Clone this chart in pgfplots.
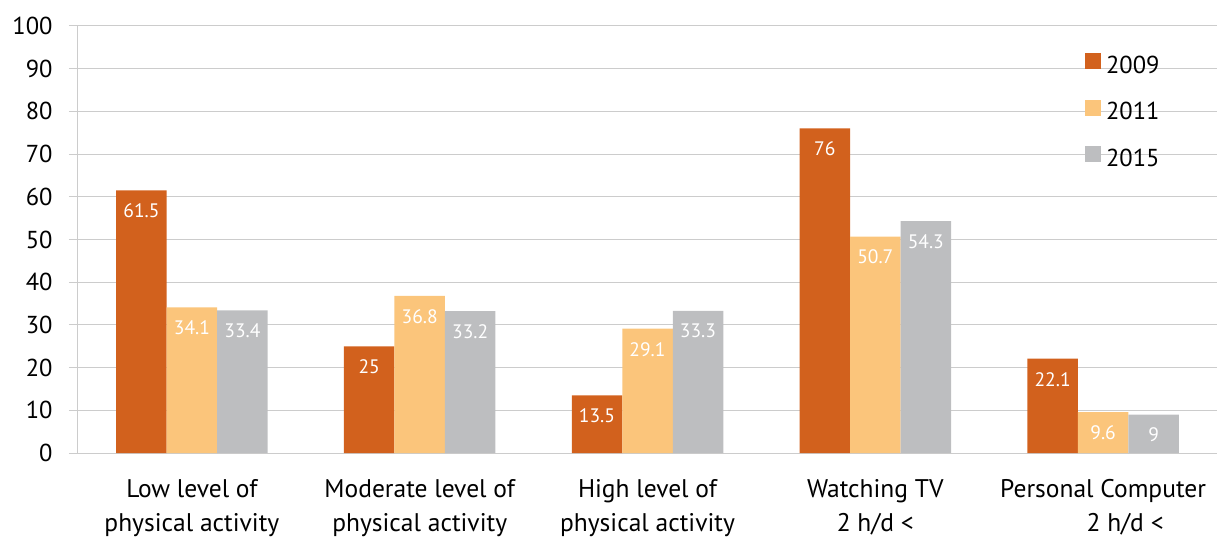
\documentclass[border=0pt]{standalone}
\usepackage{pgfplots}
\pgfplotsset{compat=1.18}
\usepackage{fontspec}
\setmainfont{PT Sans}
\usetikzlibrary{calc}

\definecolor{c2009}{RGB}{210,97,29}
\definecolor{c2011}{RGB}{251,197,123}
\definecolor{c2015}{RGB}{189,190,192}
\definecolor{gridc}{RGB}{204,204,204}

\pgfplotsset{/pgf/number format/assume math mode=true}

\begin{document}
\begin{tikzpicture}
\begin{axis}[
  scale only axis,
  width=1139pt, height=427pt,
  ymin=0, ymax=100,
  ytick={0,10,...,100},
  xmin=-0.5, xmax=4.5,
  xtick={0,1,2,3,4},
  xticklabels={{Low level of\\physical activity},
               {Moderate level of\\physical activity},
               {High level of\\physical activity},
               {Watching TV\\2 h/d <},
               {Personal Computer\\\hspace*{44pt}2 h/d <}},
  xticklabel style={align=center, font=\fontsize{25.5}{34}\selectfont, yshift=-14pt},
  yticklabel style={font=\fontsize{24.5}{29}\selectfont, xshift=-13pt},
  axis x line*=bottom,
  axis y line*=left,
  axis line style={-, draw=gridc, line width=1pt},
  tick align=outside,
  major tick length=9pt,
  ytick style={draw=gridc, line width=1pt},
  xtick style={draw=none},
  extra x ticks={-0.5,0.5,1.5,2.5,3.5,4.5},
  extra x tick labels={},
  extra x tick style={xmajorgrids=false, tick style={draw=gridc, line width=1pt}},
  ymajorgrids,
  grid style={draw=gridc, line width=1pt},
  ybar=0pt,
  bar width=50.5pt,
  nodes near coords,
  nodes near coords style={white, anchor=north, yshift=-10pt,
                           font=\fontsize{19.5}{22}\selectfont},
  legend style={draw=none, fill=none, at={(rel axis cs:0.884,0.937)},
                anchor=north west, inner sep=0pt, row sep=23pt,
                font=\fontsize{24.5}{29}\selectfont},
  legend cell align=left,
]
\addplot[fill=c2009, draw=none,
  legend image code/.code={\fill[c2009] (0pt,-4pt) rectangle (16pt,12pt); \path (19pt,0pt);}]
  coordinates {(0,61.5) (1,25) (2,13.5) (3,76) (4,22.1)};
\addplot[fill=c2011, draw=none,
  legend image code/.code={\fill[c2011] (0pt,-4pt) rectangle (16pt,12pt); \path (19pt,0pt);}]
  coordinates {(0,34.1) (1,36.8) (2,29.1) (3,50.7) (4,9.6)};
\addplot[fill=c2015, draw=none,
  legend image code/.code={\fill[c2015] (0pt,-4pt) rectangle (16pt,12pt); \path (19pt,0pt);}]
  coordinates {(0,33.4) (1,33.2) (2,33.3) (3,54.3) (4,9)};
\legend{2009,2011,2015}
\coordinate (o) at (rel axis cs:0,0);
\coordinate (t) at (rel axis cs:1,1);
\end{axis}
\pgfresetboundingbox
\path ($(o)+(-78pt,-83pt)$) rectangle ($(t)+(4pt,26pt)$);
\end{tikzpicture}
\end{document}
